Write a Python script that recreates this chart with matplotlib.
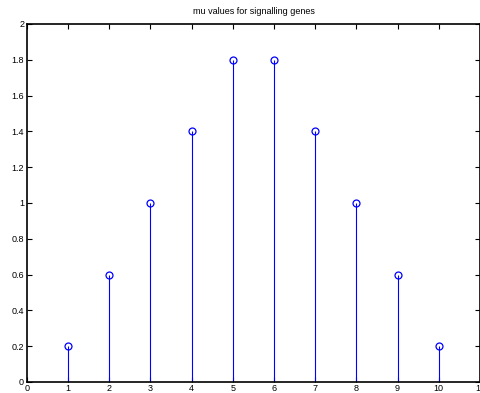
import matplotlib
matplotlib.use("Agg")
import matplotlib.pyplot as plt

plt.rcParams['font.family'] = ['Liberation Sans', 'DejaVu Sans']

genes = [1, 2, 3, 4, 5, 6, 7, 8, 9, 10]
mu = [0.2, 0.6, 1.0, 1.4, 1.8, 1.8, 1.4, 1.0, 0.6, 0.2]
x_ticks = list(range(0, 12))
y_ticks = [0, 0.2, 0.4, 0.6, 0.8, 1, 1.2, 1.4, 1.6, 1.8, 2]
y_labels = ['0', '0.2', '0.4', '0.6', '0.8', '1', '1.2', '1.4', '1.6', '1.8', '2']

fig = plt.figure(figsize=(4.8, 3.93), dpi=100)
ax = fig.add_axes([0.056, 0.028, 0.944, 0.911])

markers, stems, base = ax.stem(genes, mu, linefmt='b-', markerfmt='bo', basefmt=' ')
stems.set_linewidth(0.8)
stems.set_color('blue')
markers.set_markerfacecolor('none')
markers.set_markeredgecolor('blue')
markers.set_markersize(5)
markers.set_markeredgewidth(0.9)

ax.set_xlim(0, 11)
ax.set_ylim(0, 2)
ax.set_xticks(x_ticks)
ax.set_xticklabels([str(t) for t in x_ticks])
ax.set_yticks(y_ticks)
ax.set_yticklabels(y_labels)
ax.tick_params(direction='in', length=3.5, width=0.8, labelsize=6.5,
               top=True, right=True, pad=2)
ax.tick_params(axis='x', pad=1.5)
for s in ax.spines.values():
    s.set_linewidth(1.2)

ax.set_title('mu values for signalling genes', fontsize=6.5, pad=7)

fig.savefig('out.png', dpi=100)
